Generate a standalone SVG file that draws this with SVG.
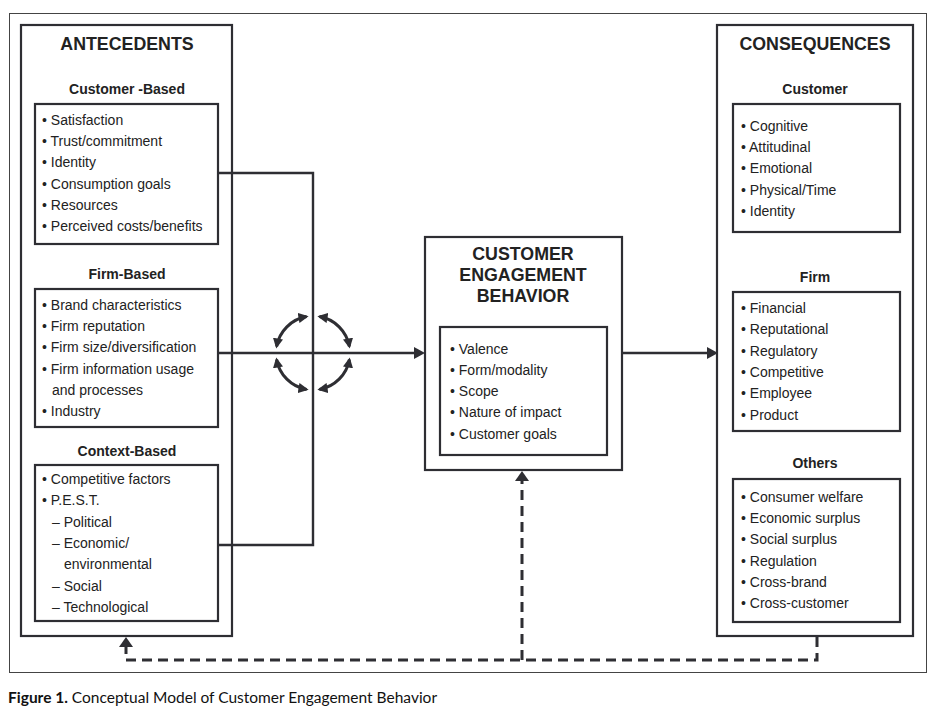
<svg xmlns="http://www.w3.org/2000/svg" width="939" height="712" viewBox="0 0 939 712">
<defs>
<style>
.frame{fill:none;stroke:#444;stroke-width:1}
.box{fill:#fff;stroke:#2e2e33;stroke-width:2.2}
.ln{fill:none;stroke:#2e2e33;stroke-width:2.4}
.dash{fill:none;stroke:#2e2e33;stroke-width:3;stroke-dasharray:10 6}
.arc{fill:none;stroke:#2e2e33;stroke-width:3}
.h1{font-family:"Liberation Sans",Arial,sans-serif;font-weight:bold;font-size:17.8px;fill:#222;text-anchor:middle}
.h2{font-family:"Liberation Sans",Arial,sans-serif;font-weight:bold;font-size:14px;fill:#222;text-anchor:middle}
.it{font-family:"Liberation Sans",Arial,sans-serif;font-size:14px;fill:#222}
.cap{font-family:Lato,"Open Sans",sans-serif;font-size:15.5px;fill:#111}
</style>
<marker id="ah2" viewBox="0 0 10 10" refX="8" refY="5" markerWidth="3.4" markerHeight="3.4" orient="auto-start-reverse" markerUnits="strokeWidth">
<path d="M0,0 L10,5 L0,10 z" fill="#2e2e33"/>
</marker>
</defs>
<rect width="939" height="712" fill="#fff"/>
<rect class="frame" x="9.5" y="13.5" width="917" height="659"/>

<g id="antecedents">
<rect class="box" x="21" y="25" width="211" height="611"/>
<text class="h1" x="127" y="50">ANTECEDENTS</text>
</g>
<g id="customer-based">
<text class="h2" x="127" y="94">Customer -Based</text>
<rect class="box" x="35" y="104" width="183" height="140"/>
<text class="it" x="42" y="125">• Satisfaction</text>
<text class="it" x="42" y="146">• Trust/commitment</text>
<text class="it" x="42" y="167">• Identity</text>
<text class="it" x="42" y="189">• Consumption goals</text>
<text class="it" x="42" y="210">• Resources</text>
<text class="it" x="42" y="231">• Perceived costs/benefits</text>
</g>
<g id="firm-based">
<text class="h2" x="127" y="279">Firm-Based</text>
<rect class="box" x="35" y="289" width="183" height="138"/>
<text class="it" x="42" y="310">• Brand characteristics</text>
<text class="it" x="42" y="331">• Firm reputation</text>
<text class="it" x="42" y="352">• Firm size/diversification</text>
<text class="it" x="42" y="374">• Firm information usage</text>
<text class="it" x="52" y="395">and processes</text>
<text class="it" x="42" y="416">• Industry</text>
</g>
<g id="context-based">
<text class="h2" x="127" y="456">Context-Based</text>
<rect class="box" x="35" y="465" width="183" height="156"/>
<text class="it" x="42" y="484">• Competitive factors</text>
<text class="it" x="42" y="505">• P.E.S.T.</text>
<text class="it" x="52" y="527">– Political</text>
<text class="it" x="52" y="548">– Economic/</text>
<text class="it" x="64" y="569">environmental</text>
<text class="it" x="52" y="591">– Social</text>
<text class="it" x="52" y="612">– Technological</text>
</g>

<g id="ceb">
<rect class="box" x="425" y="237" width="197" height="233"/>
<text class="h1" x="523" y="260">CUSTOMER</text>
<text class="h1" x="523" y="281">ENGAGEMENT</text>
<text class="h1" x="523" y="302">BEHAVIOR</text>
<rect class="box" x="440" y="327" width="167" height="128"/>
<text class="it" x="450" y="354">• Valence</text>
<text class="it" x="450" y="375">• Form/modality</text>
<text class="it" x="450" y="396">• Scope</text>
<text class="it" x="450" y="417">• Nature of impact</text>
<text class="it" x="450" y="439">• Customer goals</text>
</g>

<g id="consequences">
<rect class="box" x="717" y="25" width="196" height="611"/>
<text class="h1" x="815" y="50">CONSEQUENCES</text>
</g>
<g id="customer">
<text class="h2" x="815" y="94">Customer</text>
<rect class="box" x="733" y="104" width="167" height="128"/>
<text class="it" x="741" y="131">• Cognitive</text>
<text class="it" x="741" y="152">• Attitudinal</text>
<text class="it" x="741" y="173">• Emotional</text>
<text class="it" x="741" y="195">• Physical/Time</text>
<text class="it" x="741" y="216">• Identity</text>
</g>
<g id="firm">
<text class="h2" x="815" y="282">Firm</text>
<rect class="box" x="733" y="292" width="167" height="139"/>
<text class="it" x="741" y="313">• Financial</text>
<text class="it" x="741" y="334">• Reputational</text>
<text class="it" x="741" y="356">• Regulatory</text>
<text class="it" x="741" y="377">• Competitive</text>
<text class="it" x="741" y="398">• Employee</text>
<text class="it" x="741" y="420">• Product</text>
</g>
<g id="others">
<text class="h2" x="815" y="468">Others</text>
<rect class="box" x="733" y="479" width="167" height="143"/>
<text class="it" x="741" y="502">• Consumer welfare</text>
<text class="it" x="741" y="523">• Economic surplus</text>
<text class="it" x="741" y="544">• Social surplus</text>
<text class="it" x="741" y="566">• Regulation</text>
<text class="it" x="741" y="587">• Cross-brand</text>
<text class="it" x="741" y="608">• Cross-customer</text>
</g>

<g id="connectors">
<path class="ln" d="M218,173 H313 V545 H218"/>
<line class="ln" x1="218" y1="353" x2="416" y2="353"/>
<path d="M425,353 L414,347 L414,359 z" fill="#2e2e33"/>
<line class="ln" x1="622" y1="353" x2="708" y2="353"/>
<path d="M718,353 L707,347 L707,359 z" fill="#2e2e33"/>
<path class="arc" d="M276.6,346.6 A37,37 0 0 1 306.6,316.6" marker-start="url(#ah2)" marker-end="url(#ah2)"/>
<path class="arc" d="M319.4,316.6 A37,37 0 0 1 349.4,346.6" marker-start="url(#ah2)" marker-end="url(#ah2)"/>
<path class="arc" d="M349.4,359.4 A37,37 0 0 1 319.4,389.4" marker-start="url(#ah2)" marker-end="url(#ah2)"/>
<path class="arc" d="M306.6,389.4 A37,37 0 0 1 276.6,359.4" marker-start="url(#ah2)" marker-end="url(#ah2)"/>
<path class="dash" d="M817,637 V660 H126 V646"/>
<path d="M126,637 L119,647 L133,647 z" fill="#2e2e33"/>
<path class="dash" d="M522,660 V480"/>
<path d="M522,471 L515,481 L529,481 z" fill="#2e2e33"/>
</g>

<text class="cap" x="8" y="703"><tspan font-weight="bold">Figure 1.</tspan> Conceptual Model of Customer Engagement Behavior</text>
</svg>
